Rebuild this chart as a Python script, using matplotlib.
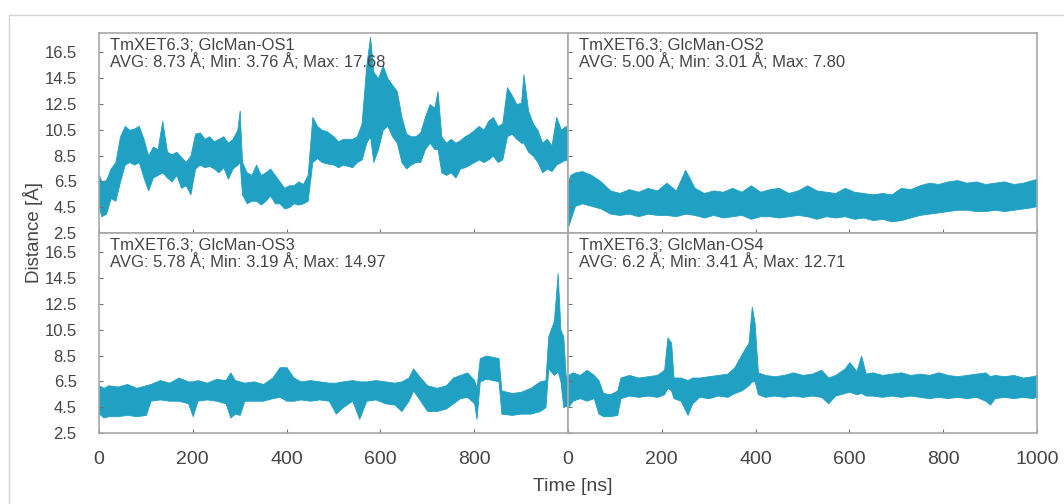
import matplotlib
matplotlib.use("Agg")
import matplotlib.pyplot as plt
from matplotlib.patches import Rectangle
import numpy as np

plt.rcParams['font.family'] = ['Liberation Sans', 'DejaVu Sans']

# ── Data: time [ns], lower / upper edge of the trace [Å] ──

os1_t = [0, 5, 15, 25, 35, 45, 55, 65, 75, 85, 95, 105, 115, 125, 135, 145, 155, 165,
         175, 185, 195, 205, 215, 225, 235, 245, 255, 265, 275, 285, 295, 300, 305, 315,
         325, 335, 345, 355, 365, 375, 385, 395, 405, 415, 425, 435, 445, 455, 465, 475,
         485, 500, 510, 520, 530, 540, 550, 560, 570, 578, 585, 595, 605, 615, 625, 635,
         645, 655, 665, 675, 685, 695, 705, 715, 722, 730, 740, 750, 760, 770, 780, 790,
         800, 810, 820, 830, 840, 850, 860, 870, 880, 890, 900, 905, 915, 925, 935, 945,
         955, 965, 975, 985, 995, 1000]
os1_lo = [4.5, 3.8, 4.0, 5.2, 5.0, 6.5, 7.8, 8.0, 7.8, 8.0, 6.8, 5.8, 6.8, 7.0, 7.2, 6.8, 6.5, 7.0,
          6.0, 6.2, 5.5, 7.5, 7.8, 7.6, 7.7, 7.5, 7.2, 7.6, 6.7, 7.5, 7.8, 8.0, 5.5, 4.8,
          5.0, 5.0, 4.7, 5.0, 5.4, 4.8, 4.8, 4.4, 4.5, 4.8, 4.7, 4.8, 5.0, 8.0, 8.3, 8.0,
          7.9, 7.8, 7.6, 7.8, 7.7, 7.6, 8.0, 8.2, 9.5, 10.0, 8.0, 9.0, 10.5, 10.8, 10.0, 9.5,
          8.0, 7.5, 7.8, 8.0, 8.0, 9.0, 9.5, 9.0, 9.0, 7.2, 7.0, 7.2, 6.8, 7.5, 7.6, 7.8,
          8.0, 8.2, 8.0, 8.2, 8.5, 8.0, 8.2, 10.0, 10.2, 9.8, 9.5, 9.5, 8.8, 8.5, 8.0, 7.2,
          7.5, 7.3, 7.8, 8.0, 8.2, 8.0]
os1_hi = [7.0, 6.5, 6.6, 7.5, 8.0, 10.0, 10.8, 10.5, 10.6, 10.8, 9.8, 8.5, 9.2, 9.0, 11.2, 8.8, 8.6, 8.8,
          8.4, 8.0, 8.5, 10.2, 10.3, 9.8, 10.0, 9.6, 9.8, 10.0, 9.5, 9.8, 10.5, 12.0, 8.0, 7.2,
          7.0, 7.8, 7.0, 7.2, 7.5, 7.0, 6.5, 6.0, 6.2, 6.2, 6.5, 6.3, 7.0, 11.5, 10.8, 10.5,
          10.4, 10.0, 9.6, 9.8, 9.8, 9.8, 10.0, 11.0, 15.5, 17.7, 15.0, 14.5, 15.5, 14.5, 14.0, 13.5,
          11.5, 10.2, 10.0, 10.0, 10.3, 11.5, 12.5, 12.2, 13.5, 10.0, 9.5, 9.8, 9.5, 9.7, 10.0, 10.2,
          10.5, 10.8, 10.5, 11.2, 11.5, 10.8, 11.0, 13.8, 13.2, 12.5, 12.6, 14.8, 12.0, 11.0, 10.5, 9.5,
          9.8, 9.3, 11.5, 10.5, 10.8, 10.0]

os2_t = [0, 5, 15, 30, 50, 70, 90, 110, 130, 150, 170, 190, 210, 230, 250, 270, 290, 310,
         330, 350, 370, 390, 410, 430, 450, 470, 490, 510, 530, 550, 570, 590, 610, 630,
         650, 670, 690, 710, 730, 750, 770, 790, 810, 830, 850, 870, 890, 910, 930, 950,
         970, 990, 1000]
os2_lo = [3.0, 3.5, 4.6, 4.8, 4.6, 4.4, 4.0, 3.9, 4.0, 3.8, 4.0, 3.9, 3.9, 3.8, 4.0, 3.9, 3.7, 3.9,
          3.7, 3.8, 3.9, 3.6, 3.8, 3.8, 3.7, 3.8, 3.9, 3.8, 3.6, 3.8, 3.7, 3.8, 3.6, 3.7,
          3.5, 3.6, 3.4, 3.5, 3.7, 3.9, 4.0, 4.1, 4.2, 4.3, 4.3, 4.2, 4.2, 4.3, 4.2, 4.3,
          4.4, 4.5, 4.6]
os2_hi = [6.5, 7.0, 7.2, 7.3, 7.0, 6.5, 5.8, 5.6, 5.9, 5.7, 6.0, 5.8, 6.4, 5.8, 7.4, 6.0, 5.6, 5.8,
          5.7, 6.0, 5.7, 6.2, 5.7, 5.9, 6.0, 5.6, 5.8, 6.2, 5.8, 5.7, 5.6, 6.0, 5.7, 5.6,
          5.5, 5.6, 5.5, 6.0, 5.9, 6.2, 6.4, 6.3, 6.5, 6.6, 6.4, 6.5, 6.3, 6.4, 6.5, 6.3,
          6.4, 6.6, 6.7]

os3_t = [0, 10, 20, 40, 60, 80, 100, 110, 130, 150, 170, 190, 200, 210, 230, 250, 270, 280,
         290, 300, 310, 330, 350, 370, 385, 400, 415, 430, 450, 470, 490, 505, 520, 540,
         555, 570, 590, 610, 630, 645, 660, 670, 685, 700, 720, 740, 755, 770, 785, 800,
         805, 812, 825, 840, 852, 858, 880, 900, 920, 940, 952, 958, 970, 978, 984, 990,
         995, 1000]
os3_lo = [4.0, 3.7, 3.8, 3.8, 3.9, 3.8, 3.9, 5.0, 5.1, 5.0, 5.0, 4.8, 3.8, 5.0, 5.1, 5.0, 4.8, 3.7,
          4.0, 3.9, 5.0, 5.0, 5.0, 5.2, 5.3, 5.0, 5.0, 5.1, 5.0, 5.1, 5.0, 4.0, 4.5, 5.0,
          3.6, 5.0, 5.1, 4.8, 4.7, 4.2, 5.0, 5.8, 5.0, 4.2, 4.2, 4.4, 4.8, 5.2, 5.3, 4.8,
          3.6, 6.5, 6.7, 6.6, 6.5, 4.0, 3.9, 4.0, 4.0, 4.2, 4.5, 7.5, 7.0, 7.3, 6.5, 4.5,
          4.6, 4.5]
os3_hi = [6.2, 6.0, 6.2, 6.1, 6.3, 6.0, 6.2, 6.3, 6.6, 6.4, 6.8, 6.5, 6.5, 6.6, 6.4, 6.7, 6.6, 7.2,
          6.6, 6.5, 6.4, 6.5, 6.3, 6.8, 7.6, 7.6, 6.8, 6.5, 6.6, 6.5, 6.4, 6.4, 6.5, 6.6,
          6.5, 6.5, 6.6, 6.5, 6.4, 6.5, 6.8, 7.5, 6.8, 6.2, 6.0, 6.2, 6.8, 7.0, 7.2, 6.6,
          6.0, 8.3, 8.5, 8.4, 8.3, 5.8, 5.6, 5.7, 6.0, 6.5, 6.6, 10.0, 11.2, 14.9, 10.5, 10.0,
          7.0, 6.2]

os4_t = [0, 10, 25, 40, 55, 65, 75, 90, 105, 112, 130, 150, 170, 190, 205, 212, 220, 225,
         240, 255, 265, 280, 300, 320, 340, 355, 370, 385, 392, 398, 405, 420, 440, 460,
         480, 500, 520, 540, 555, 570, 590, 600, 615, 625, 635, 650, 670, 690, 710, 730,
         750, 770, 790, 810, 830, 850, 870, 890, 900, 910, 930, 950, 970, 990, 1000]
os4_lo = [4.5, 5.0, 5.2, 5.0, 5.2, 4.0, 3.8, 3.8, 3.9, 5.2, 5.4, 5.3, 5.4, 5.3, 5.5, 6.0, 5.8, 5.2,
          5.0, 3.9, 4.8, 5.3, 5.2, 5.4, 5.3, 5.6, 5.8, 6.2, 6.5, 6.5, 5.5, 5.3, 5.4, 5.3,
          5.4, 5.3, 5.4, 5.3, 4.8, 5.4, 5.6, 5.7, 5.5, 5.6, 5.4, 5.4, 5.3, 5.4, 5.3, 5.4,
          5.3, 5.2, 5.3, 5.2, 5.3, 5.2, 5.3, 5.0, 4.7, 5.2, 5.3, 5.2, 5.3, 5.2, 5.3]
os4_hi = [7.0, 7.2, 7.0, 7.4, 7.0, 6.6, 5.6, 5.5, 5.8, 6.8, 7.0, 6.8, 6.9, 7.0, 7.4, 9.9, 9.5, 6.8,
          6.8, 6.6, 6.8, 6.8, 6.9, 7.0, 7.1, 7.6, 8.6, 9.5, 12.3, 11.0, 7.2, 7.0, 6.9, 7.0,
          7.2, 7.0, 7.1, 7.4, 6.8, 7.0, 7.5, 8.0, 7.3, 8.5, 7.1, 7.2, 7.0, 7.1, 7.2, 7.0,
          7.1, 7.0, 7.2, 7.0, 6.9, 7.0, 7.1, 7.2, 6.9, 7.0, 6.9, 7.0, 6.8, 6.9, 7.0]

titles = ["TmXET6.3; GlcMan-OS1\nAVG: 8.73 Å; Min: 3.76 Å; Max: 17.68",
          "TmXET6.3; GlcMan-OS2\nAVG: 5.00 Å; Min: 3.01 Å; Max: 7.80",
          "TmXET6.3; GlcMan-OS3\nAVG: 5.78 Å; Min: 3.19 Å; Max: 14.97",
          "TmXET6.3; GlcMan-OS4\nAVG: 6.2 Å; Min: 3.41 Å; Max: 12.71"]

series = [(os1_t, os1_lo, os1_hi), (os2_t, os2_lo, os2_hi),
          (os3_t, os3_lo, os3_hi), (os4_t, os4_lo, os4_hi)]

yticks = [2.5, 4.5, 6.5, 8.5, 10.5, 12.5, 14.5, 16.5]
xticks = [0, 200, 400, 600, 800, 1000]

# ── Figure ────────────────────────────────────────────────────────────

line_color = "#20a0c2"
text_color = "#454545"
spine_color = "#a8a8a8"

fig, axes = plt.subplots(2, 2, figsize=(10.64, 5.04), dpi=100)
fig.subplots_adjust(left=0.093, right=0.9746, top=0.9345, bottom=0.1409,
                    wspace=0, hspace=0)

# light frame around the whole picture
fig.patches.append(Rectangle((0.0089, -0.1), 1.2, 1.0698, transform=fig.transFigure,
                             fill=False, edgecolor="#d4d4d4", linewidth=1.0))

for i, ax in enumerate(axes.flat):
    t, lo, hi = series[i]
    ax.fill_between(t, lo, hi, color=line_color, linewidth=0.6, edgecolor=line_color)
    ax.set_xlim(0, 1000)
    ax.set_ylim(2.5, 18.0)
    ax.set_yticks(yticks)
    ax.set_xticks(xticks)
    ax.tick_params(direction="in", length=3, color="#707070", labelcolor=text_color)
    ax.tick_params(axis="y", labelsize=12, pad=16)
    ax.tick_params(axis="x", labelsize=14, pad=13)
    for sp in ax.spines.values():
        sp.set_color(spine_color)
        sp.set_linewidth(1.2)
    ax.text(0.024, 0.975, titles[i], transform=ax.transAxes, ha="left", va="top",
            fontsize=12, color=text_color, linespacing=1.0)
    row, col = divmod(i, 2)
    if row == 0:
        ax.set_xticklabels([])
    if col == 1:
        ax.set_yticklabels([])

axes[1, 0].set_xticklabels(["0", "200", "400", "600", "800", ""])

fig.text(0.031, 0.5377, "Distance [Å]", rotation=90, ha="center", va="center",
         fontsize=13.5, color=text_color)
fig.text(0.5385, 0.034, "Time [ns]", ha="center", va="center",
         fontsize=14, color=text_color)

fig.savefig("out.png", dpi=100)
